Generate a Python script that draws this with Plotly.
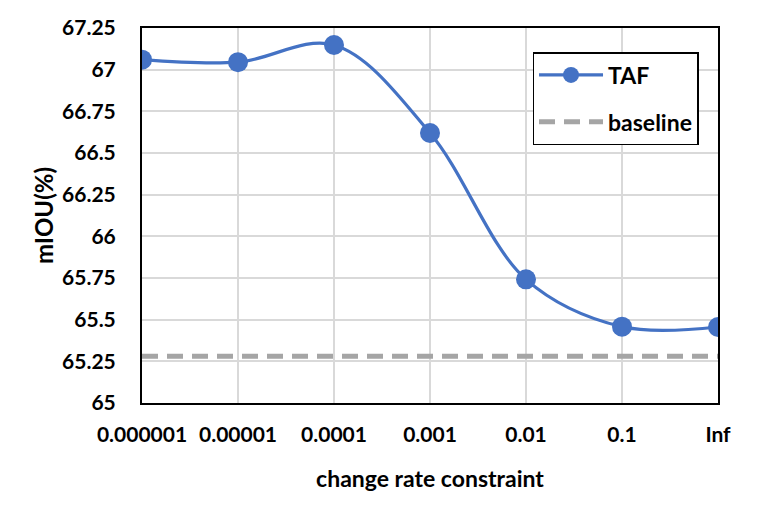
import plotly.graph_objects as go

categories = ["0.000001", "0.00001", "0.0001", "0.001", "0.01", "0.1", "Inf"]
taf_values = [67.06, 67.045, 67.148, 66.62, 65.742, 65.458, 65.456]
baseline_value = 65.28
baseline_values = [baseline_value] * len(categories)
y_ticks = [65, 65.25, 65.5, 65.75, 66, 66.25, 66.5, 66.75, 67, 67.25]
y_tick_labels = ["65", "65.25", "65.5", "65.75", "66", "66.25", "66.5", "66.75", "67", "67.25"]

FONT = "Lato"

fig = go.Figure()
fig.add_trace(go.Scatter(
    x=list(range(len(categories))), y=taf_values, name="TAF",
    mode="lines+markers", line=dict(color="#4472C4", width=3.2, shape="spline", smoothing=1.0),
    marker=dict(size=20, color="#4472C4"), legendgroup="a",
))
fig.add_trace(go.Scatter(
    x=list(range(len(categories))), y=baseline_values, name="baseline",
    mode="lines", line=dict(color="#A5A5A5", width=5, dash="16px,9px"), legendgroup="b",
))

fig.update_layout(
    width=757, height=525,
    margin=dict(l=142, r=39, t=28, b=122),
    paper_bgcolor="white", plot_bgcolor="white",
    font=dict(family=FONT, size=21, color="black"),
    showlegend=True,
    legend=dict(
        x=0.678, y=0.936, xanchor="left", yanchor="top",
        bordercolor="black", borderwidth=1.5, bgcolor="white",
        font=dict(family=FONT, size=23, color="black", weight="bold"),
        tracegroupgap=14, itemwidth=64,
    ),
    xaxis=dict(
        range=[0, 6], tickmode="array", tickvals=list(range(len(categories))), ticktext=categories,
        showgrid=True, gridcolor="#D9D9D9", gridwidth=1.5,
        showline=True, linecolor="black", linewidth=2, mirror=True,
        ticks="", ticklabelstandoff=12,
        tickfont=dict(family=FONT, size=21, weight="bold"),
        title=dict(text="change rate constraint", font=dict(family=FONT, size=23, weight="bold"), standoff=26),
        zeroline=False,
    ),
    yaxis=dict(
        range=[65, 67.25], tickmode="array", tickvals=y_ticks, ticktext=y_tick_labels,
        showgrid=True, gridcolor="#D9D9D9", gridwidth=1.5,
        showline=True, linecolor="black", linewidth=2, mirror=True,
        ticks="", ticklabelstandoff=20,
        tickfont=dict(family=FONT, size=21, weight="bold"),
        title=dict(text="mIOU(%)", font=dict(family=FONT, size=24, weight="bold"), standoff=2),
        zeroline=False,
    ),
)

fig.write_html("out.html")
